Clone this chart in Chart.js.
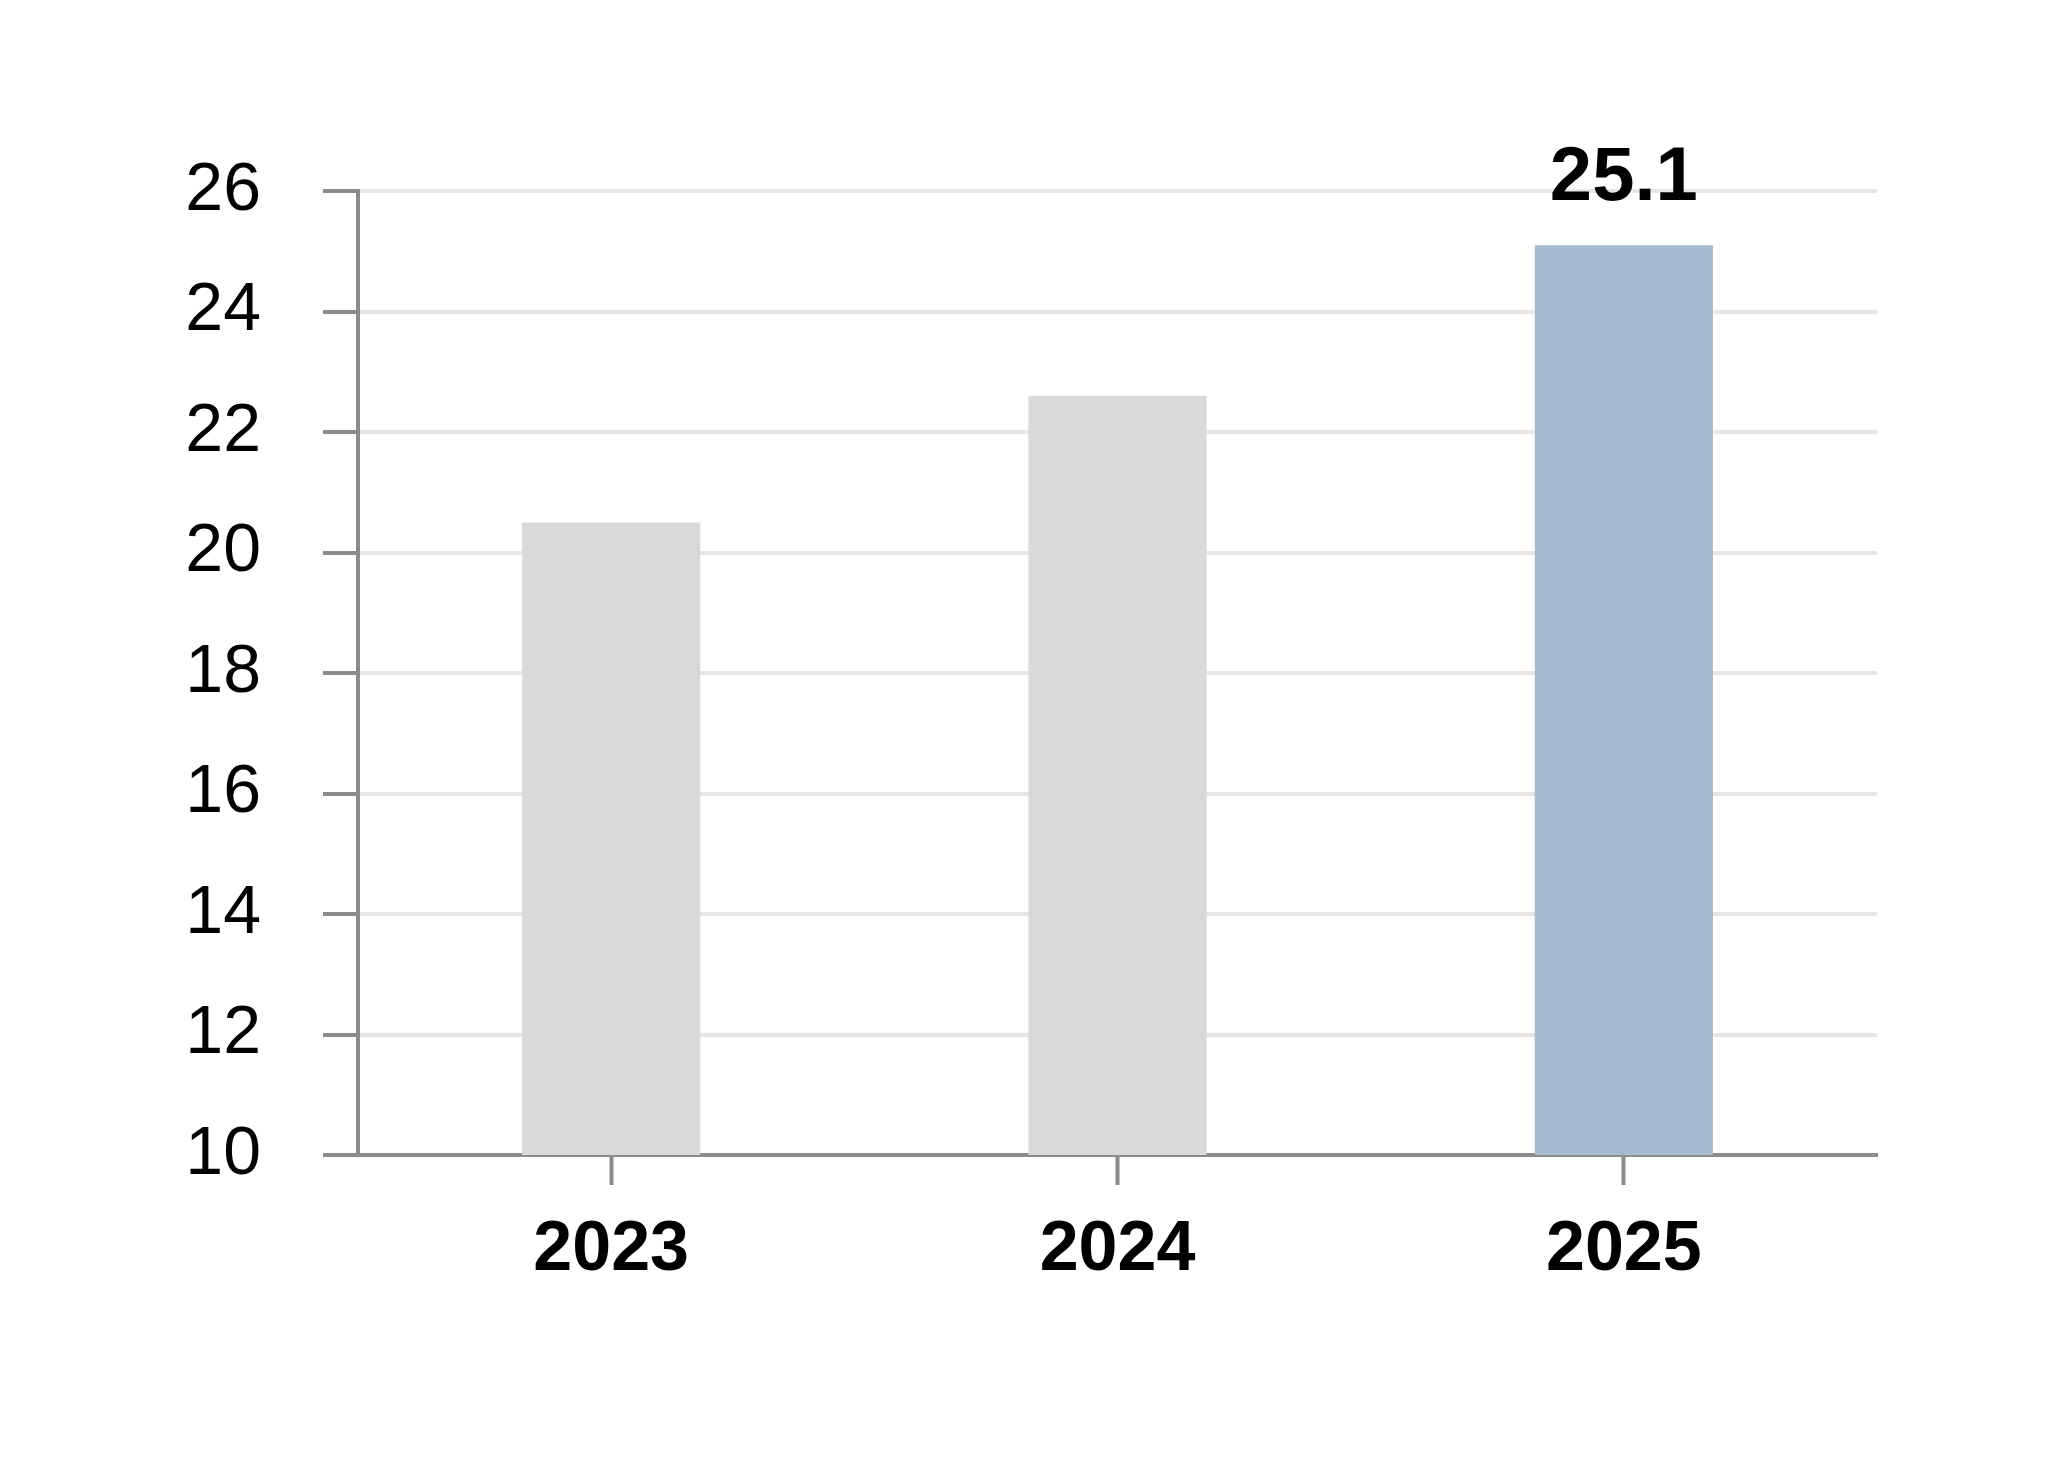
<!DOCTYPE html>
<html>
<head>
<meta charset="utf-8">
<script src="https://cdn.jsdelivr.net/npm/chart.js@4/dist/chart.umd.min.js"></script>
<style>
  html, body { margin: 0; padding: 0; background: #fff; }
  #wrap { width: 2070px; height: 1476px; }
</style>
</head>
<body>
<div id="wrap"><canvas id="chart" width="2070" height="1476"></canvas></div>
<script>
// values
const years = ['2023', '2024', '2025'];
const values = [20.5, 22.6, 25.1];
const barColors = ['#d9d9d9', '#d9d9d9', '#a6bbd0'];
const labelledBars = [2]; // only the last bar carries a value label

const axisGrey = '#8c8c8c';
const font = "'Liberation Sans', Arial, sans-serif";

// value label drawn above the highlighted bar
const valueLabels = {
    id: 'valueLabels',
    afterDatasetsDraw(chart) {
        const ctx = chart.ctx;
        const meta = chart.getDatasetMeta(0);
        ctx.save();
        ctx.font = 'bold 76px ' + font;
        ctx.fillStyle = '#000';
        ctx.textAlign = 'center';
        ctx.textBaseline = 'middle';
        labelledBars.forEach(i => {
            const bar = meta.data[i];
            ctx.fillText(values[i].toFixed(1), bar.x, bar.y - 66);
        });
        ctx.restore();
    }
};

new Chart(document.getElementById('chart'), {
    type: 'bar',
    data: {
        labels: years,
        datasets: [{
            data: values,
            backgroundColor: barColors,
            borderWidth: 0,
            categoryPercentage: 1,
            barPercentage: 0.352
        }]
    },
    options: {
        responsive: false,
        animation: false,
        layout: { padding: { top: 191, right: 193, left: 0, bottom: 0 } },
        plugins: {
            legend: { display: false },
            tooltip: { enabled: false }
        },
        scales: {
            x: {
                afterFit: s => { s.height = 321; },
                grid: {
                    offset: false,
                    drawOnChartArea: false,
                    tickLength: 30,
                    tickColor: axisGrey,
                    tickWidth: 4
                },
                border: { color: axisGrey, width: 4 },
                ticks: {
                    padding: 24,
                    color: '#000',
                    font: { family: font, size: 70, weight: 'bold' }
                }
            },
            y: {
                min: 10,
                max: 26,
                afterFit: s => { s.width = 358; },
                grid: {
                    color: '#e6e6e6',
                    lineWidth: 4,
                    tickLength: 35,
                    tickColor: axisGrey,
                    tickWidth: 4
                },
                border: { color: axisGrey, width: 4 },
                ticks: {
                    stepSize: 2,
                    padding: 62,
                    color: '#000',
                    font: { family: font, size: 68 }
                }
            }
        }
    },
    plugins: [valueLabels]
});
</script>
</body>
</html>
